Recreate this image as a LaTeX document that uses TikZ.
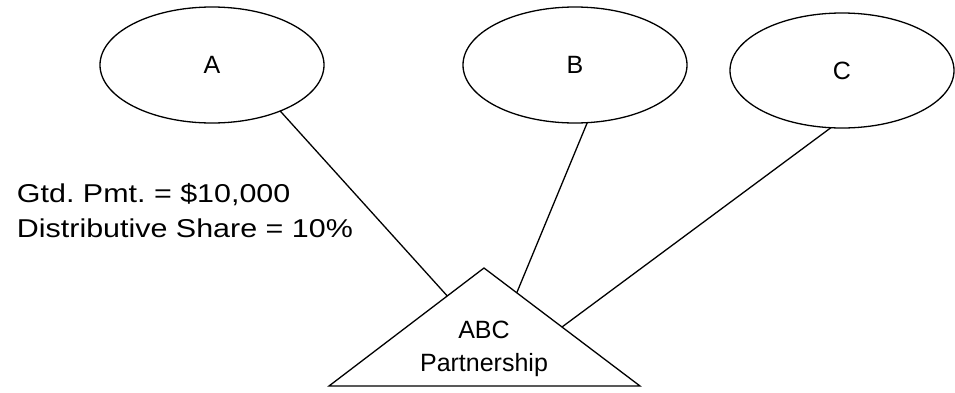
\documentclass[tikz,border=0pt]{standalone}
\usepackage{fontspec}
\setmainfont{Liberation Sans}
\usetikzlibrary{shapes.geometric,calc}
\frenchspacing
\tikzset{%
  % Specifications for style of nodes and lines:
       base/.style = {inner sep=0pt, outer sep=0pt,
                      font=\fontsize{12.5}{16.5}\selectfont},
    partner/.style = {base, ellipse, draw=black, line width=0.65pt,
                      minimum width=112pt, minimum height=58pt},
       note/.style = {base, anchor=west, align=left,
                      font=\fontsize{12.9}{17.5}\selectfont},
       link/.style = {draw=black, line width=0.65pt},
}

\begin{document}
\begin{tikzpicture}[x=0.5pt, y=-0.5pt]
  \useasboundingbox (0,0) rectangle (955,392);
  % Specification of the partners
  \node (partnerA) [partner] at (212,65) {A};
  \node (partnerB) [partner] at (575,65) {B};
  \node (partnerC) [partner, minimum height=57.5pt] at (842,70.5) {C};
  % Specification of the partnership (triangle)
  \coordinate (apex)  at (484,268);
  \coordinate (baseL) at (329,386);
  \coordinate (baseR) at (640,386);
  \draw[link] (apex) -- (baseL) -- (baseR) -- cycle;
  \node (abc) [base, align=center] at (484,349) {ABC\\Partnership};
  % Points where the lines meet the triangle
  \coordinate (hitA) at ($(apex)!0.237!(baseL)$);
  \coordinate (hitB) at ($(apex)!0.21!(baseR)$);
  \coordinate (hitC) at ($(apex)!0.5!(baseR)$);
  % Text for partner A
  \node (terms) [note] at (17,211)
        {\scalebox{1.18}[1]{Gtd. Pmt. = \$10,000}\\
         \scalebox{1.18}[1]{Distributive Share = 10\%}};
  % Lines between partners and partnership
  \draw[link] (partnerA.-34.5)  -- (hitA);
  \draw[link] (partnerB.-78.3)  -- (hitB);
  \draw[link] (partnerC.-101.7) -- (hitC);
\end{tikzpicture}
\end{document}
